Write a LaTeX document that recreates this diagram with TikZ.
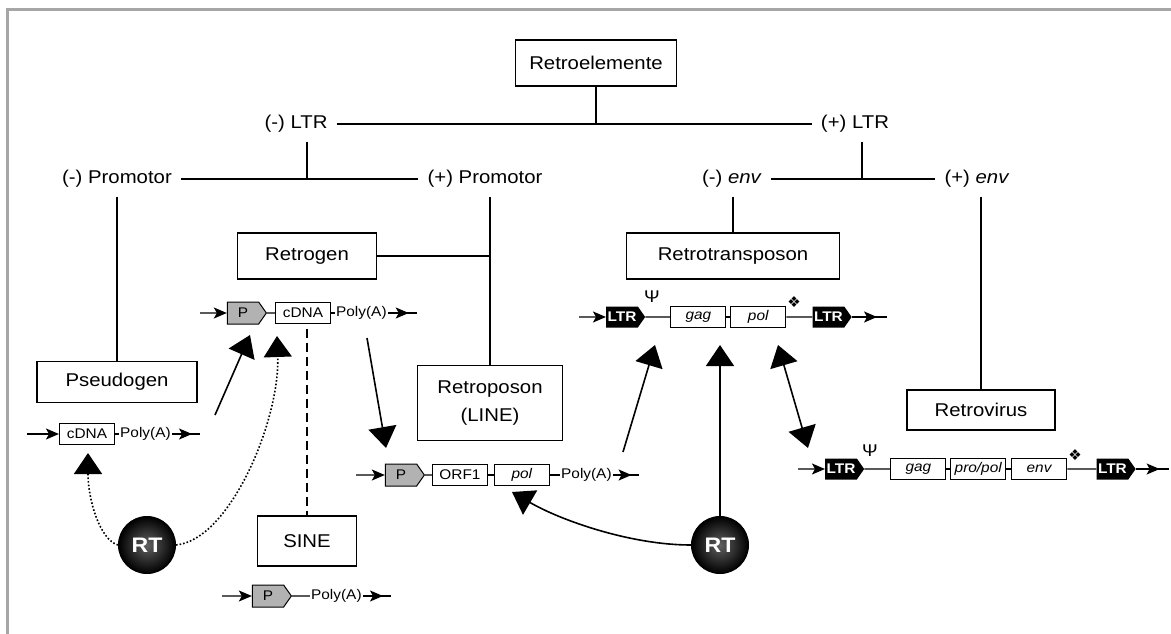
\documentclass[tikz,border=0pt]{standalone}
\usepackage{fontspec}
\setmainfont{Liberation Sans}[FakeStretch=1.1]
\newfontfamily\symfont{DejaVu Sans}
\usetikzlibrary{positioning,shapes.symbols,arrows.meta,decorations.markings}

\tikzset{
  cat/.style={font=\fontsize{18.5}{22}\selectfont, inner sep=9pt},
  catbox/.style={draw, line width=1.6pt, font=\fontsize{18.5}{22}\selectfont, minimum height=46pt, align=center},
  tree/.style={line width=1.6pt},
  seqbox/.style={draw, line width=1pt, fill=white, minimum width=55pt, minimum height=21pt, inner sep=1pt, font=\fontsize{14}{16}\selectfont},
  pbox/.style={signal, signal to=east, signal pointer angle=110, draw, line width=1pt, fill=gray!60, minimum width=39pt, minimum height=22pt, inner sep=1pt, font=\fontsize{14}{16}\selectfont},
  ltrbox/.style={signal, signal to=east, signal pointer angle=110, fill=black, text=white, minimum width=39pt, minimum height=21pt, inner sep=1pt, font=\bfseries\fontsize{14}{16}\selectfont},
  seqtext/.style={inner sep=1pt, font=\fontsize{14}{16}\selectfont},
  seqline/.style={line width=1.4pt},
  inarr/.style={seqline, -{Stealth[length=13pt,width=11pt,inset=3pt]}},
  outarr/.style={seqline, postaction={decorate}, decoration={markings, mark=at position 0.72 with {\arrow{Stealth[length=13pt,width=11pt,inset=3pt]}}}},
  bigarr/.style={line width=1.6pt, -{Triangle[length=21pt,width=28pt]}},
  rtball/.style={circle, draw=black, line width=1pt, inner color=black!62, outer color=black, minimum size=57pt, text=white, font=\bfseries\fontsize{21}{24}\selectfont},
  frame/.style={line width=3pt, gray!70}
}

\begin{document}
\begin{tikzpicture}[x=1pt,y=-1pt]
\useasboundingbox (0,0) rectangle (1171,634);
\draw[frame] (7,634) -- (7,10) -- (1171,10);

% tree
\node[catbox, minimum width=161pt] (retro) at (596,63) {Retroelemente};
\node[cat] (ltrminus) at (296,124) {(-) LTR};
\node[cat] (ltrplus) at (855,124) {(+) LTR};
\node[cat] (prominus) at (117,179) {(-) Promotor};
\node[cat] (promplus) at (485,179) {(+) Promotor};
\node[cat] (envminus) at (732,179) {(-) \textit{env}};
\node[cat] (envplus) at (977,179) {(+) \textit{env}};
\coordinate (jA) at (307,179);
\coordinate (jB) at (862,179);

\node[catbox, minimum width=160pt, minimum height=41pt] (pseudogen) at (117,382) {Pseudogen};
\node[catbox, minimum width=139pt] (retrogen) at (307,256) {Retrogen};
\node[catbox, minimum width=145pt, minimum height=75pt] (retroposon) at (490,403) {Retroposon\\[6pt](LINE)};
\node[catbox, minimum width=99pt, minimum height=50pt] (sine) at (307,541) {SINE};
\node[catbox, minimum width=213pt] (retrotrans) at (733,256) {Retrotransposon};
\node[catbox, minimum width=148pt, minimum height=40pt] (retrovirus) at (981,410) {Retrovirus};

\draw[tree] (ltrminus) -- (ltrplus);
\draw[tree] (retro) -- (retro |- ltrminus);
\draw[tree] (prominus) -- (promplus);
\draw[tree] (envminus) -- (envplus);
\draw[tree] (ltrminus.south -| jA) -- (jA);
\draw[tree] (ltrplus.south -| jB) -- (jB);
\draw[tree] (prominus) -- (pseudogen);
\draw[tree] (promplus.south -| retroposon) -- (retroposon);
\draw[tree] (retrogen) -- (retrogen -| retroposon);
\draw[tree] (envminus.south -| retrotrans) -- (retrotrans);
\draw[tree] (envplus.south -| retrovirus) -- (retrovirus);

% Pseudogen
\coordinate (pd0) at (27,434);
\node[seqbox] (pdC) at (87,434) {cDNA};
\node[seqtext, right=4pt of pdC] (pdA) {Poly(A)};
\draw[inarr] (pd0) -- (pdC);
\draw[seqline] (pdC) -- (pdA);
\draw[outarr] (pdA.east) -- ++(28,0);

% Retrogen
\coordinate (gs0) at (200,313);
\node[pbox] (gsP) at (243,313) {P};
\node[seqbox, right=8pt of gsP] (gsC) {cDNA};
\node[seqtext, right=4pt of gsC] (gsA) {Poly(A)};
\draw[inarr] (gs0) -- (gsP);
\draw[seqline] (gsP) -- (gsC);
\draw[seqline] (gsC) -- (gsA);
\draw[outarr] (gsA.east) -- ++(29,0);
\draw[tree, dash pattern=on 9pt off 5pt] ([yshift=-5pt]gsC.south -| sine) -- (sine);

% SINE
\coordinate (sn0) at (222,596);
\node[pbox] (snP) at (268,596) {P};
\node[seqtext, right=18pt of snP] (snA) {Poly(A)};
\draw[inarr] (sn0) -- (snP);
\draw[seqline] (snP) -- (snA);
\draw[outarr] (snA.east) -- ++(28,0);

% LINE
\coordinate (ln0) at (356,475);
\node[pbox] (lnP) at (401,475) {P};
\node[seqbox, right=7pt of lnP] (lnO) {ORF1};
\node[seqbox, right=6pt of lnO] (lnL) {\textit{pol}};
\node[seqtext, right=10pt of lnL] (lnA) {Poly(A)};
\draw[inarr] (ln0) -- (lnP);
\draw[seqline] (lnP) -- (lnO);
\draw[seqline] (lnO) -- (lnL);
\draw[seqline] (lnL) -- (lnA);
\draw[outarr] (lnA.east) -- ++(26,0);

% Retrotransposon
\coordinate (tp0) at (579,317);
\node[ltrbox] (tpL1) at (622,317) {LTR};
\node[seqbox, right=25pt of tpL1] (tpG) {\textit{gag}};
\node[seqbox, right=4pt of tpG] (tpP) {\textit{pol}};
\node[ltrbox, right=26pt of tpP] (tpL2) {LTR};
\node[seqtext, font=\fontsize{17}{19}\selectfont] (tpPsi) at (652,297) {Ψ};
\node[seqtext, font=\fontsize{15}{17}\symfont] (tpDia) at (794,302) {❖};
\draw[inarr] (tp0) -- (tpL1);
\draw[seqline] (tpL1) -- (tpG);
\draw[seqline] (tpG) -- (tpP);
\draw[seqline] (tpP) -- (tpL2);
\draw[outarr] (tpL2.east) -- ++(35,0);

% Retrovirus
\coordinate (rv0) at (798,469);
\node[ltrbox] (rvL1) at (841,469) {LTR};
\node[seqbox, right=26pt of rvL1] (rvG) {\textit{gag}};
\node[seqbox, right=4pt of rvG] (rvP) {\textit{pro/pol}};
\node[seqbox, right=5pt of rvP] (rvE) {\textit{env}};
\node[ltrbox, right=29pt of rvE] (rvL2) {LTR};
\node[seqtext, font=\fontsize{17}{19}\selectfont] (rvPsi) at (870,451) {Ψ};
\node[seqtext, font=\fontsize{15}{17}\symfont] (rvDia) at (1075,455) {❖};
\draw[inarr] (rv0) -- (rvL1);
\draw[seqline] (rvL1) -- (rvG);
\draw[seqline] (rvG) -- (rvP);
\draw[seqline] (rvP) -- (rvE);
\draw[seqline] (rvE) -- (rvL2);
\draw[outarr] (rvL2.east) -- ++(33,0);

% RT
\node[rtball] (rtleft) at (147,545) {RT};
\node[rtball] (rtright) at (720,545) {RT};

% arrows
\coordinate (a1s) at (215,415);
\coordinate (a1e) at (250,335);
\coordinate (a2e) at (277,336);
\coordinate (a3e) at (88,453);
\coordinate (a4s) at (367,338);
\coordinate (a4e) at (386,448);
\coordinate (a5s) at (623,452);
\coordinate (a5e) at (655,345);
\coordinate (a6e) at (720,345);
\coordinate (a7s) at (778,345);
\coordinate (a7e) at (808,448);
\coordinate (a8e) at (512,492);
\draw[bigarr] (a1s) -- (a1e);
\draw[bigarr, dotted] (rtleft.east) .. controls (230,540) and (280,420) .. (a2e);
\draw[bigarr, dotted] (rtleft.west) .. controls (100,540) and (88,500) .. (a3e);
\draw[bigarr] (a4s) -- (a4e);
\draw[bigarr] (a5s) -- (a5e);
\draw[bigarr] (rtright) -- (a6e);
\draw[line width=1.6pt, {Triangle[length=21pt,width=28pt]}-{Triangle[length=21pt,width=28pt]}] (a7s) -- (a7e);
\draw[bigarr] (rtright.west) .. controls (630,545) and (560,520) .. (a8e);
\end{tikzpicture}
\end{document}
